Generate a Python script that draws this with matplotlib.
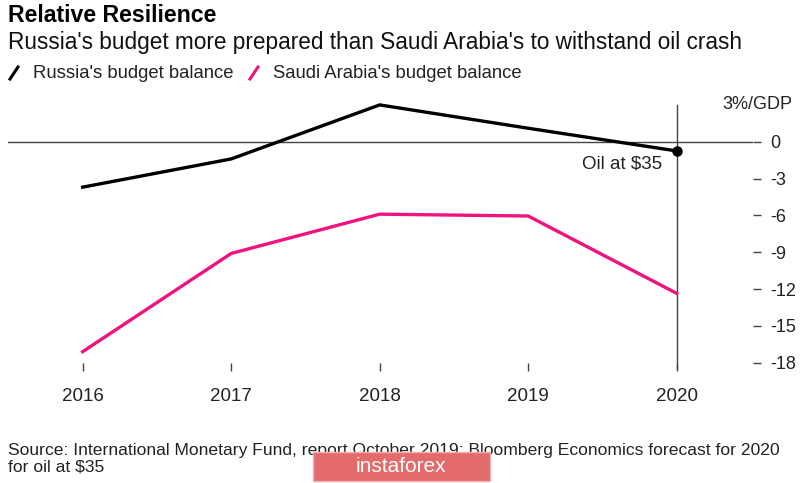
import matplotlib.pyplot as plt
from matplotlib.patches import Rectangle

plt.rcParams['font.family'] = ['Liberation Sans', 'DejaVu Sans']

years = [2016, 2017, 2018, 2019, 2020]
russia = [-3.7, -1.4, 3.0, 1.1, -0.75]
saudi = [-17.1, -9.1, -5.9, -6.05, -12.35]
yticks = [0, -3, -6, -9, -12, -15, -18]

black = '#000000'
pink = '#f0127f'
grey = '#444444'

fig = plt.figure(figsize=(8, 4.83), dpi=100)
ax = fig.add_axes([8 / 800, 1 - 362.7 / 483, 744.7 / 800, 262.7 / 483])

ax.set_xlim(2015.497, 2020.512)
ax.set_ylim(-18, 3.4)

# zero line + 2020 marker line
ax.axhline(0, color=grey, lw=1.0, zorder=1)
ax.plot([2020, 2020], [3.0, -18.45], color=grey, lw=1.0, clip_on=False, zorder=1)

ax.plot(years, russia, color=black, lw=2.4, solid_joinstyle='miter', zorder=3)
ax.plot(years, saudi, color=pink, lw=2.4, solid_joinstyle='miter', zorder=3)
ax.plot([years[-1]], [russia[-1]], 'o', color=black, ms=6.5, zorder=4)
ax.text(2019.9, -1.85, "Oil at $35", ha='right', va='center', fontsize=13.5, color='#222222')

for s in ax.spines.values():
    s.set_visible(False)

ax.yaxis.tick_right()
ax.set_yticks(yticks)
ax.set_yticklabels([str(v) for v in yticks])
ax.tick_params(axis='y', length=5.5, width=1.0, color=grey, pad=7, labelsize=13, labelcolor='#222222')
ax.set_xticks(years)
ax.set_xticklabels([str(y) for y in years])
ax.tick_params(axis='x', length=6, width=1.0, color=grey, pad=12, labelsize=13.5, labelcolor='#222222')
ax.text(1.053, 3.0, "3%/GDP", transform=ax.get_yaxis_transform(), ha='right', va='center',
        fontsize=13, color='#222222')

# header
fig.text(8 / 800, 1 - 15 / 483, "Relative Resilience", fontsize=16.7, fontweight='bold', va='center', ha='left')
fig.text(8 / 800, 1 - 43 / 483, "Russia's budget more prepared than Saudi Arabia's to withstand oil crash",
         fontsize=16.3, va='center', ha='left', color='#111111')

# legend
fig.lines.append(plt.Line2D([10 / 800, 18 / 800], [1 - 79 / 483, 1 - 67 / 483], color=black, lw=2.2,
                            transform=fig.transFigure))
fig.text(33 / 800, 1 - 73 / 483, "Russia's budget balance", fontsize=13.3, va='center', ha='left', color='#222222')
fig.lines.append(plt.Line2D([250 / 800, 258 / 800], [1 - 79 / 483, 1 - 67 / 483], color=pink, lw=2.2,
                            transform=fig.transFigure))
fig.text(273 / 800, 1 - 73 / 483, "Saudi Arabia's budget balance", fontsize=13.3, va='center', ha='left',
         color='#222222')

# source
fig.text(8 / 800, 1 - 450 / 483,
         "Source: International Monetary Fund, report October 2019; Bloomberg Economics forecast for 2020",
         fontsize=12.6, va='center', ha='left', color='#222222')
fig.text(8 / 800, 1 - 467 / 483, "for oil at $35", fontsize=12.6, va='center', ha='left', color='#222222')

# watermark
fig.patches.append(Rectangle((313 / 800, 1 - 481 / 483), 177 / 800, 29 / 483, transform=fig.transFigure,
                             facecolor='#e36b6b', edgecolor='#f0b0b0', lw=1, zorder=5))
fig.text(401 / 800, 1 - 466 / 483, "instaforex", fontsize=15, color='white', ha='center', va='center', zorder=6)

fig.savefig("out.png", dpi=100)
